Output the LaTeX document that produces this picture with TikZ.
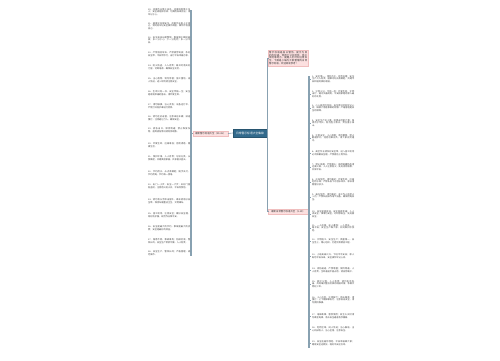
\documentclass[tikz,border=0pt]{standalone}
\usepackage{fontspec}
\usepackage{xcolor}
\newfontfamily\cjk{Noto Sans CJK SC}
\XeTeXlinebreaklocale "zh"
\XeTeXlinebreakskip=0pt plus 0.5pt
\usetikzlibrary{positioning}

\definecolor{hubblue}{RGB}{50,106,140}
\definecolor{tagpink}{RGB}{252,224,224}
\definecolor{tagedge}{RGB}{240,190,190}
\definecolor{barline}{RGB}{136,161,177}
\definecolor{leafgray}{RGB}{70,70,70}

\begin{document}
\begin{tikzpicture}[x=1pt,y=-1pt,every node/.style={font=\cjk},
  hub/.style={fill=hubblue,draw=hubblue!80!black,text=white,inner sep=0.8pt,
    minimum width=34pt,minimum height=7.5pt,font=\cjk\fontsize{2.8}{3.2}\selectfont},
  tag/.style={fill=tagpink,draw=tagedge,line width=0.3pt,text=black!80,inner sep=0.8pt,
    minimum height=5.5pt,font=\cjk\fontsize{2.4}{2.9}\selectfont},
  leaf/.style={anchor=west,text width=42pt,align=justify,inner sep=0pt,text=leafgray,
    font=\cjk\fontsize{2.2}{2.75}\selectfont},
  bar/.style={draw=barline,line width=1.4pt},
  link/.style={draw=barline,line width=0.6pt}]
\fill[white] (0,0) rectangle (500,360);
\useasboundingbox (0,0) rectangle (500,360);

% centre and the three tags
\node[hub] (hub) at (250,133) {日常警示标语大全集锦};
\node[tag,anchor=east,minimum width=35pt] (tagL) at (228,133.5) {最新警示标语大全（20-38）};
\node[tag,anchor=west,minimum width=40pt] (tagR) at (268,211.5) {最新日常警示标语大全（1-19）};
\node[tag,anchor=north west,text width=38pt,align=justify,inner sep=1pt] (tagT) at (268,50)
  {警示标语是指以警告、提示为目的的标语，常用于公共场所、施工现场等地方，提醒人们时刻注意安全。下面是小编为大家整理的日常警示标语，欢迎阅读参考！};

\coordinate (fork) at ([xshift=0.5pt]hub.east);
\draw[link] (hub.west) -- (tagL.east);
\draw[link] (hub.east) -- (fork) |- (tagT.west);
\draw[link] (fork) |- (tagR.west);

% left column
\coordinate (lbT) at (191,10);
\coordinate (lbB) at (191,256);
\draw[bar] (lbT) -- (lbB);
\draw[link] (tagL.west) -- (tagL.west -| lbT);
\foreach \y/\t [count=\i] in {
  12/{20、违章作业等于自杀，违章指挥等于杀人；安全规程血写成，切莫用血来验证，请牢记于心。},
  26/{21、遵章守纪保安全，违章作业害人又害己，请时刻牢记安全操作规程，做到不伤害自己。},
  40/{22、安全来自长期警惕，事故源于瞬间麻痹；多一分小心，少一分危险，多一分平安。},
  54/{23、严禁酒后驾车，严禁疲劳驾驶；系好安全带，平安伴你行，出行平安幸福万家。},
  67/{24、防火防盗，人人有责；离开时请关好门窗，切断电源，确保安全无忧。},
  80/{25、当心落物，请勿停留；施工重地，闲人免进，进入现场请注意安全。},
  93/{26、生命只有一次，安全伴随一生；安全是家庭幸福的基石，请珍爱生命。},
  106/{27、请勿触摸，当心烫伤；设备运行中，严禁打开防护罩进行检修。},
  118/{28、请勿在此逗留，注意来往车辆；减速慢行，注意避让行人，确保安全。},
  130/{29、紧急出口，保持畅通；禁止堆放杂物，遇到紧急情况请有序疏散。},
  145/{30、珍爱生命，远离毒品；拒绝诱惑，健康生活。},
  158/{31、保护环境，人人有责；垃圾分类，从我做起，共建美丽家园，共享碧水蓝天。},
  173/{32、节约用水，从点滴做起；随手关灯，节约用电，节约每一度电。},
  186/{33、出门一小步，安全一大步；关好门窗防盗窃，注意用火防火灾，平安你我他。},
  201/{34、请勿将头手伸出窗外，乘车请系好安全带，保持车厢整洁卫生，文明乘车。},
  215/{35、施工现场，注意安全；戴好安全帽，穿好防护服，规范作业保平安。},
  228/{36、安全是最大的节约，事故是最大的浪费；安全是最好的效益。},
  241/{37、隐患不除，事故难免；防微杜渐，警钟长鸣，安全生产常抓不懈，人人有责。},
  253/{38、安全生产，警钟长鸣；严格管理，规范操作。}} {
  \node[leaf] (L\i) at (148,\y) {\t};
  \draw[link] (L\i.east -| lbT) -- ++(-1.5,0);
}

% right column
\coordinate (rbT) at (309,76);
\coordinate (rbB) at (309,348);
\draw[bar] (rbT) -- (rbB);
\draw[link] (tagR.east) -- (tagR.east -| rbT);
\foreach \y/\t [count=\i] in {
  79/{1、安全第一，预防为主，综合治理；安全生产人人有责，遵章守纪从我做起，共建平安和谐的美好家园。},
  94/{2、宁停三分，不抢一秒；珍爱生命，文明出行，遵守交通规则，平安回家是给家人最好的礼物。},
  108/{3、小心驶得万年船，安全意识时刻牢记心间；麻痹大意是事故的根源，严格管理是安全的保障。},
  123/{4、安全生产无小事，防患未然是大事；隐患险于明火，防范胜于救灾，责任重于泰山。},
  138/{5、注意安全，小心滑倒；请勿攀爬，禁止翻越护栏，违者后果自负，请大家自觉遵守。},
  153/{6、高空作业请系好安全带，进入施工现场必须佩戴安全帽，严禁酒后上岗作业。},
  167/{7、禁止吸烟，严禁烟火；易燃易爆物品请远离火源，人人注意防火，处处消除隐患，共保平安。},
  182/{8、水深危险，请勿靠近；珍爱生命，远离危险水域，严禁私自下水游泳戏水，家长请看管好孩子。},
  197/{9、高压危险，请勿靠近；非工作人员禁止入内，严禁私自操作电气设备，确保用电安全。},
  214/{10、安全就是效益，安全就是幸福；人人讲安全，事事为安全，时时想安全，处处要安全。},
  228/{11、一人违章，众人遭殃；一人把关，一路平安；安全生产靠大家，共同维护你我他。},
  241/{12、文明施工，安全生产；质量第一，安全至上，精心组织，打造优质精品工程。},
  256/{13、上班高高兴兴，下班平平安安；家人盼您平安归来，安全操作牢记心间。},
  270/{14、消防通道，严禁堵塞；保持畅通，人人有责，生命通道不容占用，请自觉维护。},
  284/{15、爱护公物，人人有责；请勿乱涂乱画，共同维护整洁优美的校园环境，争做文明好少年。},
  300/{16、小心台阶，注意脚下；雨天路滑，请慢行，上下楼梯靠右行，注意自身安全，请勿拥挤推搡。},
  316/{17、电梯故障，暂停使用；发生火灾时请勿乘坐电梯，请从安全通道有序撤离。},
  329/{18、危险区域，闲人免进；当心触电，当心机械伤人，当心坠落，注意安全。},
  343/{19、安全连着你我他，平安幸福靠大家；绷紧安全这根弦，唱好平安这台戏。}} {
  \node[leaf] (R\i) at (312,\y) {\t};
  \draw[link] (R\i.west -| rbT) -- ++(1.5,0);
}
\end{tikzpicture}
\end{document}
